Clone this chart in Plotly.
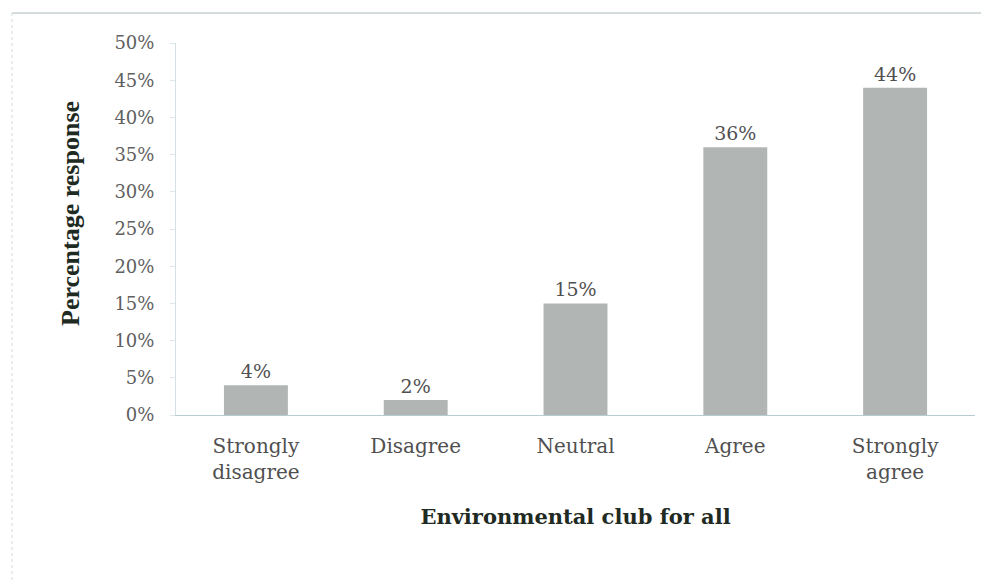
import plotly.graph_objects as go

categories = ["Strongly<br>disagree", "Disagree", "Neutral", "Agree", "Strongly<br>agree"]
values = [4, 2, 15, 36, 44]
value_labels = ["4%", "2%", "15%", "36%", "44%"]
tick_vals = [0, 5, 10, 15, 20, 25, 30, 35, 40, 45, 50]
tick_text = ["0%", "5%", "10%", "15%", "20%", "25%", "30%", "35%", "40%", "45%", "50%"]

serif = "DejaVu Serif, serif"
times = "Liberation Serif, Times New Roman, serif"

fig = go.Figure(go.Bar(
    x=categories, y=values,
    text=value_labels, textposition="outside",
    textfont=dict(family=serif, size=19, color="#505050"),
    marker=dict(color="#b1b5b4", line=dict(width=0)),
    cliponaxis=False,
))

fig.update_layout(
    width=989, height=583,
    margin=dict(l=168, r=22, t=35, b=176),
    paper_bgcolor="white", plot_bgcolor="white",
    bargap=0.6,
    showlegend=False,
    xaxis=dict(
        showline=True, linecolor="#b8ccd3", linewidth=1,
        tickfont=dict(family=serif, size=20, color="#505050"),
        ticks="outside", ticklen=13, tickcolor="rgba(0,0,0,0)",
        title=dict(text="<b>Environmental club for all</b>",
                   font=dict(family=serif, size=21, color="#1e2a22"),
                   standoff=26),
    ),
    yaxis=dict(
        range=[0, 50], tickvals=tick_vals, ticktext=tick_text,
        showgrid=False, zeroline=False,
        showline=True, linecolor="#d5e0e4", linewidth=1,
        ticks="outside", ticklen=5, tickcolor="#dde6e9",
        ticklabelstandoff=12,
        tickfont=dict(family=serif, size=18, color="#606060"),
    ),
    annotations=[
        dict(text="<b>Percentage response</b>", xref="paper", yref="paper",
             x=-0.1327, y=0.543, textangle=-90, showarrow=False,
             xanchor="center", yanchor="middle",
             font=dict(family=times, size=26, color="#1e2a22")),
    ],
    shapes=[
        dict(type="line", xref="paper", yref="paper",
             x0=-0.2053, x1=1.03, y0=1.0806, y1=1.0806,
             line=dict(color="#a9b8bc", width=1)),
        dict(type="line", xref="paper", yref="paper",
             x0=-0.2053, x1=-0.2053, y0=1.0806, y1=-0.5,
             line=dict(color="#d0dadd", width=1, dash="dot")),
    ],
)

fig.write_html("out.html")
